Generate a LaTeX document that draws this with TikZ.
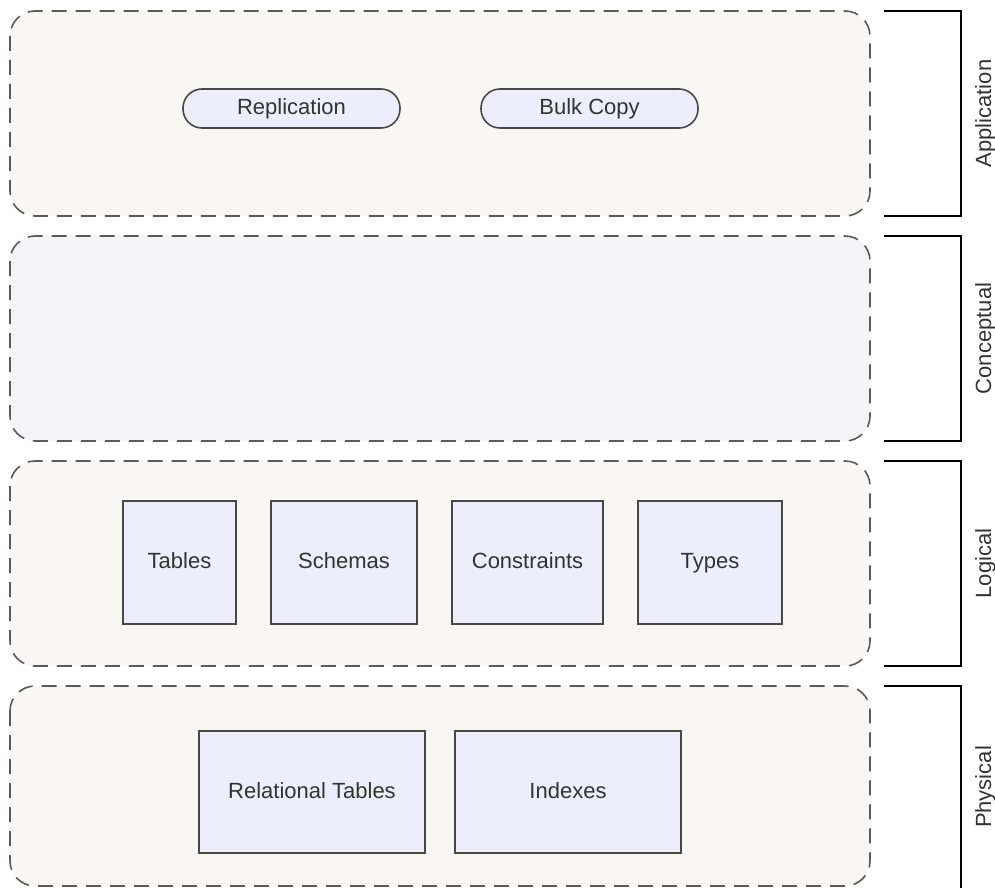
\documentclass[tikz,border=0pt]{standalone}
\usepackage{fontspec}
\setmainfont{Liberation Sans}
\usetikzlibrary{positioning}
\definecolor{layerfill}{HTML}{F8F7F4}
\definecolor{conceptfill}{HTML}{F4F3F6}
\definecolor{nodefill}{HTML}{EEEEFB}
\definecolor{edgegray}{HTML}{5A5A5A}
\definecolor{textgray}{HTML}{333333}
\tikzset{
  labelfont/.style={font=\fontsize{22}{26}\selectfont, text=textgray,
    text height=16pt, text depth=4pt},
  layer/.style={draw=edgegray, line width=1.6pt, dash pattern=on 15pt off 9pt,
    fill=layerfill, rounded corners=25pt},
  pill/.style={labelfont, draw=edgegray!80!black, line width=1.6pt, fill=nodefill,
    rounded corners=19pt, minimum width=217pt, minimum height=39pt, inner sep=0pt},
  block/.style={labelfont, draw=edgegray!80!black, line width=1.8pt, fill=nodefill,
    inner sep=0pt},
  bracket/.style={draw=black, line width=1.6pt},
  sidelabel/.style={labelfont, rotate=90, inner sep=0pt}
}
\begin{document}
\begin{tikzpicture}[x=1pt, y=-1pt]
\useasboundingbox (0,0) rectangle (995,888);

% layer frames
\draw[layer] (10,11) rectangle (870,216);
\draw[layer, fill=conceptfill] (10,236) rectangle (870,441);
\draw[layer] (10,461) rectangle (870,666);
\draw[layer] (10,686) rectangle (870,886);

% application layer
\node[pill] (repl) at (291.5,108.5) {Replication};
\node[pill] (bulk) at (589.5,108.5) {Bulk Copy};

% logical layer
\node[block, minimum width=113pt, minimum height=123pt] (tables) at (179.5,562.5) {Tables};
\node[block, minimum width=146pt, minimum height=123pt] (schemas) at (344,562.5) {Schemas};
\node[block, minimum width=151pt, minimum height=123pt] (constr) at (527.5,562.5) {Constraints};
\node[block, minimum width=144pt, minimum height=123pt] (types) at (710,562.5) {Types};

% physical layer
\node[block, minimum width=226pt, minimum height=122pt] (reltab) at (312,792) {Relational Tables};
\node[block, minimum width=226pt, minimum height=122pt] (idx) at (568,792) {Indexes};

% brackets on the right
\draw[bracket] (884,11) -- (961,11) -- (961,216) -- (884,216);
\draw[bracket] (884,236) -- (961,236) -- (961,441) -- (884,441);
\draw[bracket] (884,461) -- (961,461) -- (961,666) -- (884,666);
\draw[bracket] (884,686) -- (961,686) -- (961,888);

\node[sidelabel] (lapp) at (985,113.5) {Application};
\node[sidelabel] (lcon) at (985,338.5) {Conceptual};
\node[sidelabel] (llog) at (985,563.5) {Logical};
\node[sidelabel] (lphy) at (985,787) {Physical};
\end{tikzpicture}
\end{document}
